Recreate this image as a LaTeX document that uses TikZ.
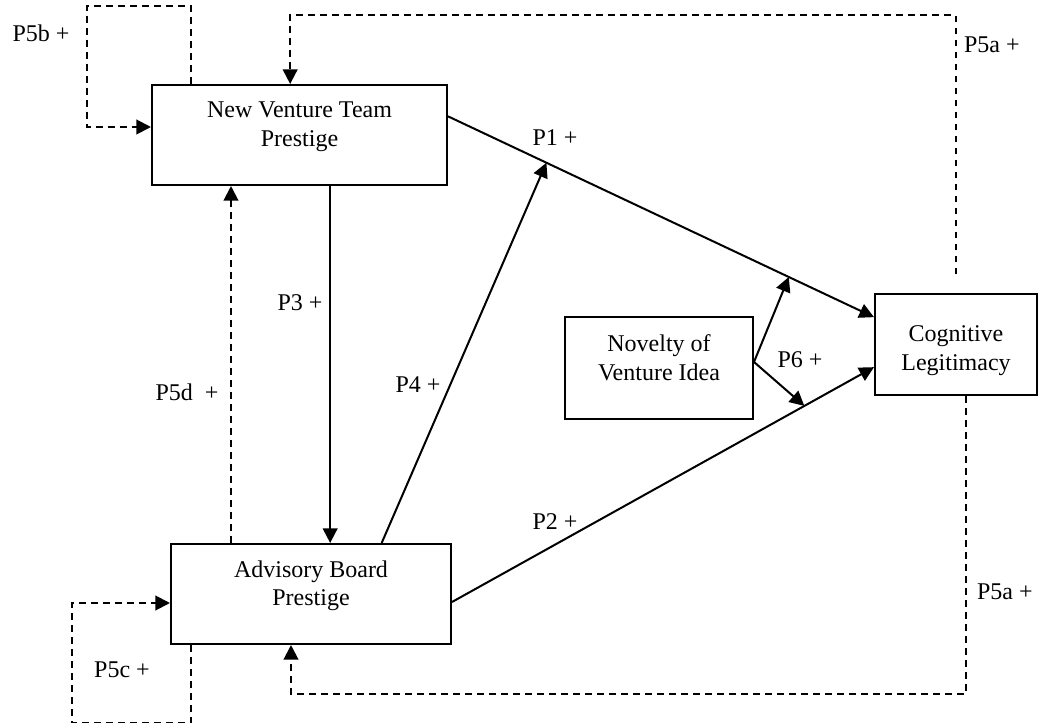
\documentclass[tikz,border=0pt]{standalone}
\usepackage{fontspec}
\setmainfont{Liberation Serif}
\usetikzlibrary{arrows.meta}

\begin{document}
\begin{tikzpicture}
[-,line width=1.5pt,x=0.75pt,y=-0.75pt,%
  box/.style={shape=rectangle,draw,inner sep=0pt,align=center,minimum height=75pt},%
  topbox/.style={box,text depth=16pt},%
  lbl/.style={inner sep=0pt},%
  arr/.style={-{Triangle[length=11pt,width=11pt]}},%
  dasharr/.style={arr,dash pattern=on 5pt off 4pt}]
\fontsize{18}{21.4}\selectfont
\useasboundingbox (0,0) rectangle (1039,723);
\node[topbox,minimum width=221.25pt] (nvt) at (299.5,135) {New Venture Team\\Prestige};
\node[topbox,minimum width=210pt] (abp) at (311,594) {Advisory Board\\Prestige};
\node[topbox,minimum width=141pt,minimum height=76.5pt] (nov) at (659,368) {Novelty of\\Venture Idea};
\node[box,text height=42.7pt,minimum width=121.5pt,minimum height=75.75pt] (cl) at (956,344.5) {Cognitive\\Legitimacy};

% direct paths
\draw[arr] ([yshift=14pt]nvt.east) -- ([yshift=20.5pt]cl.west)
  coordinate[pos=0.231] (p1a) coordinate[pos=0.8] (p1b);
\draw[arr] ([yshift=-6pt]abp.east) -- ([yshift=-17pt]cl.west)
  coordinate[pos=0.835] (p2a);
\draw[arr] ([xshift=23pt]nvt.south) -- ([xshift=23pt]nvt.south |- abp.north);
\draw[arr] ([xshift=53pt]abp.north) -- (p1a);
\draw[arr] ([yshift=4.5pt]nov.east) -- (p1b);
\draw[arr] ([yshift=4.5pt]nov.east) -- (p2a);

% feedback paths
\draw[dasharr] ([yshift=14pt]cl.north) -- ++(0,-259) -| ([xshift=-7pt]nvt.north);
\draw[dasharr] ([xshift=7.5pt]cl.south) -- ++(0,298) -| ([xshift=-15pt]abp.south);
\draw[dasharr] ([xshift=-81.4pt]nvt.north) -- ++(0,-78) -- ++(-104,0)
  |- ([yshift=6pt]nvt.west);
\draw[dasharr] ([xshift=-90pt]abp.south) -- ++(0,78) -- ++(-119,0)
  |- ([yshift=-6.75pt]abp.west);
\draw[dasharr] ([xshift=-60pt]abp.north) -- ([xshift=-60pt]abp.north |- nvt.south);

% labels
\node[lbl] (lp1) at (555,138) {P1 +};
\node[lbl] (lp2) at (555,522) {P2 +};
\node[lbl] (lp3) at (300,303) {P3 +};
\node[lbl] (lp4) at (418,385) {P4 +};
\node[lbl,anchor=west] (lp5at) at (963,45) {P5a +};
\node[lbl,anchor=west] (lp5ab) at (976,592) {P5a +};
\node[lbl] (lp5b) at (41,33) {P5b +};
\node[lbl] (lp5c) at (122,670) {P5c +};
\node[lbl] (lp5d) at (187,392) {P5d\ \ +};
\node[lbl] (lp6) at (800,360) {P6 +};
\end{tikzpicture}
\end{document}
